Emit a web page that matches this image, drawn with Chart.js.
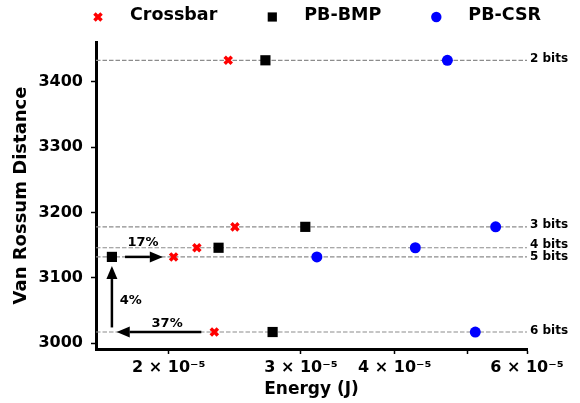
<!DOCTYPE html>
<html>
<head>
<meta charset="utf-8">
<script src="https://cdn.jsdelivr.net/npm/chart.js@4"></script>
<style>
  html, body { margin: 0; padding: 0; background: #fff; }
  #wrap { width: 580px; height: 403px; }
</style>
</head>
<body>
<div id="wrap"><canvas id="canvas"></canvas></div>
<script>
//****DATA****//

var bitLabels = ['2 bits', '3 bits', '4 bits', '5 bits', '6 bits'];
var distances = [3433, 3178, 3146, 3132, 3017];
var crossbarEnergy = [2.40e-5, 2.45e-5, 2.18e-5, 2.03e-5, 2.30e-5];
var bmpEnergy = [2.69e-5, 3.04e-5, 2.33e-5, 1.68e-5, 2.75e-5];
var csrEnergy = [4.70e-5, 5.45e-5, 4.26e-5, 3.15e-5, 5.12e-5];

var xTicks = [2e-5, 3e-5, 4e-5, 5e-5, 6e-5];
var xTickLabels = ['2 × 10⁻⁵', '3 × 10⁻⁵', '4 × 10⁻⁵', '', '6 × 10⁻⁵'];
var yTicks = [3000, 3100, 3200, 3300, 3400];

var arrowLabels = ['17%', '4%', '37%'];
var arrowStarts = [[1.749e-5, 3132], [1.68e-5, 3024], [2.21e-5, 3017]];
var arrowEnds = [[1.964e-5, 3132], [1.68e-5, 3118], [1.705e-5, 3017]];
var arrowTextAt = [[1.848e-5, 3154], [1.78e-5, 3065], [1.99e-5, 3030]];

//****HELPERS****//

var FONT = "'DejaVu Sans', 'Liberation Sans', sans-serif";

function toPoints(energies) {
  return energies.map(function(e, i) {
    return { x: e, y: distances[i] };
  });
}

function drawArrow(ctx, x1, y1, x2, y2) {
  var ang = Math.atan2(y2 - y1, x2 - x1);
  var head = 13;
  var half = 5.5;
  var bx = x2 - head * Math.cos(ang);
  var by = y2 - head * Math.sin(ang);
  ctx.beginPath();
  ctx.moveTo(x1, y1);
  ctx.lineTo(bx, by);
  ctx.stroke();
  ctx.beginPath();
  ctx.moveTo(x2, y2);
  ctx.lineTo(bx + half * Math.sin(ang), by - half * Math.cos(ang));
  ctx.lineTo(bx - half * Math.sin(ang), by + half * Math.cos(ang));
  ctx.closePath();
  ctx.fill();
}

//****PLUGINS****//

var guideLines = {
  id: 'guideLines',
  beforeDatasetsDraw: function(chart) {
    var ctx = chart.ctx;
    var area = chart.chartArea;
    var yScale = chart.scales.y;
    ctx.save();
    ctx.strokeStyle = '#8c8c8c';
    ctx.lineWidth = 1.2;
    ctx.setLineDash([4.5, 2]);
    distances.forEach(function(d) {
      var py = yScale.getPixelForValue(d);
      ctx.beginPath();
      ctx.moveTo(area.left, py);
      ctx.lineTo(area.right, py);
      ctx.stroke();
    });
    ctx.restore();

    // labels at the right end, nudged apart when two rows are too close
    var rows = distances.map(function(d, i) {
      return { text: bitLabels[i], y: yScale.getPixelForValue(d) - 1.5 };
    }).sort(function(a, b) { return a.y - b.y; });
    for (var i = 1; i < rows.length; i++) {
      var gap = rows[i].y - rows[i - 1].y;
      if (gap < 11.5) {
        var push = (11.5 - gap) / 2;
        rows[i - 1].y -= push;
        rows[i].y += push;
      }
    }
    ctx.save();
    ctx.fillStyle = '#000';
    ctx.font = 'bold 12px ' + FONT;
    ctx.textAlign = 'left';
    ctx.textBaseline = 'middle';
    rows.forEach(function(r) {
      ctx.fillText(r.text, area.right + 3, r.y);
    });
    ctx.restore();
  }
};

var arrowNotes = {
  id: 'arrowNotes',
  afterDatasetsDraw: function(chart) {
    var ctx = chart.ctx;
    var xs = chart.scales.x;
    var ys = chart.scales.y;
    ctx.save();
    ctx.strokeStyle = '#000';
    ctx.fillStyle = '#000';
    ctx.lineWidth = 2.5;
    for (var i = 0; i < arrowLabels.length; i++) {
      drawArrow(ctx,
        xs.getPixelForValue(arrowStarts[i][0]), ys.getPixelForValue(arrowStarts[i][1]),
        xs.getPixelForValue(arrowEnds[i][0]), ys.getPixelForValue(arrowEnds[i][1]));
    }
    ctx.font = 'bold 13px ' + FONT;
    ctx.textAlign = 'center';
    ctx.textBaseline = 'middle';
    for (var j = 0; j < arrowLabels.length; j++) {
      ctx.fillText(arrowLabels[j],
        xs.getPixelForValue(arrowTextAt[j][0]), ys.getPixelForValue(arrowTextAt[j][1]));
    }
    ctx.restore();
  }
};

var topLegend = {
  id: 'topLegend',
  afterDraw: function(chart) {
    var ctx = chart.ctx;
    var x = 98;
    ctx.save();
    ctx.font = 'bold 17.5px ' + FONT;
    ctx.textBaseline = 'middle';
    ctx.textAlign = 'left';
    chart.data.datasets.forEach(function(ds) {
      ctx.fillStyle = ds.pointBackgroundColor;
      ctx.strokeStyle = ds.pointBorderColor;
      ctx.lineWidth = ds.pointBorderWidth;
      Chart.helpers.drawPoint(ctx, {
        pointStyle: ds.pointStyle,
        radius: ds.legendRadius,
        borderWidth: ds.pointBorderWidth,
        rotation: 0
      }, x, 17);
      ctx.fillStyle = '#000';
      ctx.fillText(ds.label, x + 32, 15);
      x += 32 + ctx.measureText(ds.label).width + 55;
    });
    ctx.restore();
  }
};

//****CHART****//

var ctx = document.getElementById('canvas').getContext('2d');

var chart = new Chart(ctx, {
  type: 'scatter',
  data: {
    datasets: [
      {
        label: 'Crossbar',
        data: toPoints(crossbarEnergy),
        pointStyle: 'crossRot',
        pointRadius: 5,
        legendRadius: 5,
        pointBorderWidth: 3.5,
        pointBorderColor: '#ff0000',
        pointBackgroundColor: '#ff0000'
      },
      {
        label: 'PB-BMP',
        data: toPoints(bmpEnergy),
        pointStyle: 'rect',
        pointRadius: 7.2,
        legendRadius: 6.5,
        pointBorderWidth: 0,
        pointBorderColor: '#000000',
        pointBackgroundColor: '#000000'
      },
      {
        label: 'PB-CSR',
        data: toPoints(csrEnergy),
        pointStyle: 'circle',
        pointRadius: 5.5,
        legendRadius: 5.2,
        pointBorderWidth: 0,
        pointBorderColor: '#0000ff',
        pointBackgroundColor: '#0000ff'
      }
    ]
  },
  options: {
    responsive: true,
    maintainAspectRatio: false,
    devicePixelRatio: 1,
    animation: false,
    layout: { padding: { top: 42, right: 53, left: 0, bottom: 0 } },
    plugins: {
      legend: { display: false },
      tooltip: { enabled: false }
    },
    scales: {
      x: {
        type: 'logarithmic',
        min: 1.6e-5,
        max: 6e-5,
        afterBuildTicks: function(scale) {
          scale.ticks = xTicks.map(function(v) { return { value: v }; });
        },
        afterFit: function(scale) { scale.height = 54; },
        grid: { drawOnChartArea: false, drawTicks: true, tickLength: 5, tickColor: '#000', tickWidth: 1.5 },
        border: { color: '#000', width: 3 },
        ticks: {
          autoSkip: false,
          maxRotation: 0,
          padding: 4,
          color: '#000',
          font: { family: FONT, size: 16, weight: 'bold' },
          callback: function(value, index) { return xTickLabels[index]; }
        },
        title: {
          display: true,
          text: 'Energy (J)',
          color: '#000',
          font: { family: FONT, size: 17, weight: 'bold' },
          padding: { top: 0, bottom: 3 }
        }
      },
      y: {
        min: 2991,
        max: 3461,
        afterBuildTicks: function(scale) {
          scale.ticks = yTicks.map(function(v) { return { value: v }; });
        },
        afterFit: function(scale) { scale.width = 96; },
        grid: { drawOnChartArea: false, drawTicks: true, tickLength: 5, tickColor: '#000', tickWidth: 1.5 },
        border: { color: '#000', width: 3 },
        ticks: {
          padding: 8,
          color: '#000',
          font: { family: FONT, size: 16, weight: 'bold' },
          callback: function(value) { return String(value); }
        },
        title: {
          display: true,
          text: 'Van Rossum Distance',
          color: '#000',
          font: { family: FONT, size: 18, weight: 'bold' },
          padding: { top: 11, bottom: 0 }
        }
      }
    }
  },
  plugins: [guideLines, arrowNotes, topLegend]
});
</script>
</body>
</html>
